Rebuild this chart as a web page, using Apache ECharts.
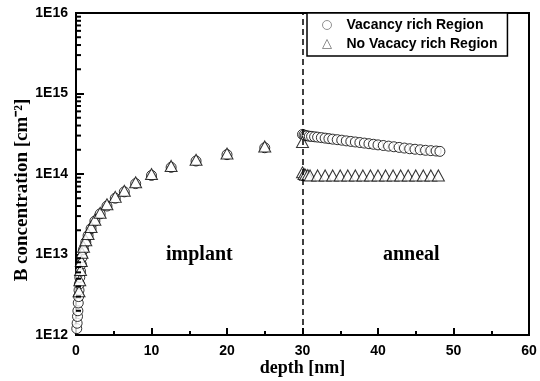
<!DOCTYPE html>
<html>
<head>
<meta charset="utf-8">
<script src="https://cdn.jsdelivr.net/npm/echarts@6/dist/echarts.min.js"></script>
<style>html,body{margin:0;padding:0;background:#fff;}#c{width:540px;height:381px;}</style>
</head>
<body>
<div id="c"></div>
<script>
// ---- data ----
const seriesNames = ['Vacancy rich Region', 'No Vacacy rich Region'];
const vacancyImplant = [
  [0.1,1.2e12],[0.15,1.4e12],[0.2,1.7e12],[0.25,2.0e12],[0.3,2.5e12],[0.35,3.0e12],[0.4,3.6e12],
  [0.45,4.3e12],[0.5,5.2e12],[0.6,6.2e12],[0.7,7.6e12],[0.8,9.2e12],[1.0,1.15e13],[1.3,1.42e13],
  [1.6,1.72e13],[2.0,2.1e13],[2.5,2.6e13],[3.2,3.2e13],[4.1,4.0e13],[5.2,5.0e13],[6.4,6.0e13],
  [7.9,7.6e13],[10,9.6e13],[12.6,1.21e14],[15.9,1.45e14],[20,1.74e14],[25,2.12e14]
];
const vacancyAnneal = [
  [30.0,3.1e14],[30.2,3.05e14],[30.4,3.0e14],[30.6,2.98e14],[30.9,2.95e14],[31.2,2.93e14],
  [31.6,2.9e14],[32.0,2.87e14],[32.5,2.83e14],[33.0,2.79e14],[33.5,2.75e14],[34.0,2.71e14],
  [34.6,2.67e14],[35.2,2.63e14],[35.8,2.58e14],[36.4,2.54e14],[37.0,2.5e14],[37.6,2.46e14],
  [38.2,2.42e14],[38.8,2.38e14],[39.4,2.34e14],[40.0,2.3e14],[40.7,2.26e14],[41.4,2.22e14],
  [42.1,2.18e14],[42.8,2.14e14],[43.5,2.1e14],[44.2,2.06e14],[44.9,2.03e14],[45.6,2.0e14],
  [46.3,1.97e14],[47.0,1.95e14],[47.7,1.93e14],[48.2,1.91e14]
];
const noVacancyImplant = [
  [0.4,3.5e12],[0.5,4.8e12],[0.6,6.4e12],[0.7,8.3e12],[0.8,1.05e13],[1.0,1.25e13],[1.3,1.5e13],
  [1.6,1.8e13],[2.0,2.2e13],[2.5,2.7e13],[3.2,3.3e13],[4.1,4.2e13],[5.2,5.2e13],[6.4,6.2e13],
  [7.9,7.9e13],[10,1.0e14],[12.6,1.26e14],[15.9,1.5e14],[20,1.8e14],[25,2.2e14],[30,2.5e14]
];
const noVacancyAnneal = [
  [30.0,1.05e14],[30.2,1.0e14],[30.4,0.98e14],[30.7,0.97e14],[31,0.96e14],[32,0.96e14],
  [33,0.96e14],[34,0.96e14],[35,0.96e14],[36,0.96e14],[37,0.96e14],[38,0.96e14],[39,0.96e14],
  [40,0.96e14],[41,0.96e14],[42,0.96e14],[43,0.96e14],[44,0.96e14],[45,0.96e14],[46,0.96e14],
  [47,0.96e14],[48,0.96e14]
];
const boundaryDepth = 30;
const xMin = 0, xMax = 60, xInterval = 10;
const yMajorTicks = [1e12, 1e13, 1e14, 1e15, 1e16];
const yMinorMultipliers = [2,3,4,5,6,7,8,9];
const regionLabels = ['implant', 'anneal'];
const xAxisTitle = 'depth [nm]';
const yAxisTitle = 'B concentration [cm\u207B\u00B2]';

const yMinorTicks = [];
for (let i = 0; i < yMajorTicks.length - 1; i++) {
  yMinorMultipliers.forEach(m => yMinorTicks.push(yMajorTicks[i] * m));
}

const sans = 'Liberation Sans, Arial, sans-serif';
const serif = 'Liberation Serif, Times New Roman, serif';
const markerStyle = { color: '#fff', borderColor: '#000', borderWidth: 1 };
const labelGraphics = [
  { type: 'text', left: 166, top: 245, style: { text: regionLabels[0], fontFamily: serif, fontWeight: 'bold', fontSize: 20, fill: '#000' } },
  { type: 'text', left: 383, top: 245, style: { text: regionLabels[1], fontFamily: serif, fontWeight: 'bold', fontSize: 20, fill: '#000' } }
];

const chart = echarts.init(document.getElementById('c'), null, { renderer: 'canvas' });
chart.setOption({
  animation: false,
  backgroundColor: '#fff',
  grid: {
    left: 76, right: 11, top: 13, bottom: 46, containLabel: false, outerBoundsMode: 'none',
    show: true, borderColor: '#000', borderWidth: 2, backgroundColor: 'transparent'
  },
  legend: {
    orient: 'vertical', left: 307, top: 13,
    data: seriesNames,
    borderColor: '#000', borderWidth: 1.5, backgroundColor: '#fff',
    padding: [5, 10, 5, 15], itemGap: 5, itemWidth: 9, itemHeight: 9,
    itemStyle: { color: '#fff', borderColor: '#777', borderWidth: 1 },
    textStyle: { fontFamily: sans, fontWeight: 'bold', fontSize: 14, color: '#000', padding: [0, 0, 0, 10] }
  },
  xAxis: {
    type: 'value', min: xMin, max: xMax, interval: xInterval,
    name: xAxisTitle, nameLocation: 'middle', nameGap: 24, nameMoveOverlap: false,
    nameTextStyle: { fontFamily: serif, fontWeight: 'bold', fontSize: 18, color: '#000' },
    axisLine: { lineStyle: { color: '#000', width: 2 } },
    axisTick: { inside: true, length: 7, lineStyle: { color: '#000', width: 2 } },
    minorTick: { show: true, splitNumber: 2, length: 4, lineStyle: { color: '#000', width: 2 } },
    axisLabel: { fontFamily: sans, fontWeight: 'bold', fontSize: 14, color: '#000', margin: 9 },
    splitLine: { show: false }
  },
  yAxis: {
    type: 'log', logBase: 10, min: yMajorTicks[0], max: yMajorTicks[yMajorTicks.length - 1],
    name: yAxisTitle, nameLocation: 'middle', nameGap: 44, nameMoveOverlap: false,
    nameTextStyle: { fontFamily: serif, fontWeight: 'bold', fontSize: 19, color: '#000', padding: [0, 32, 0, 0] },
    axisLine: { lineStyle: { color: '#000', width: 2 } },
    axisTick: { inside: true, length: 8, lineStyle: { color: '#000', width: 2 } },
    axisLabel: {
      fontFamily: sans, fontWeight: 'bold', fontSize: 14, color: '#000', margin: 8,
      formatter: v => '1E' + Math.round(Math.log10(v))
    },
    splitLine: { show: false }
  },
  graphic: labelGraphics,
  series: [
    {
      name: seriesNames[0], type: 'scatter', symbol: 'circle', symbolSize: 10,
      data: vacancyImplant.concat(vacancyAnneal), itemStyle: markerStyle, z: 2,
      markLine: {
        silent: true, symbol: 'none', label: { show: false },
        lineStyle: { color: '#000', type: [6, 4], width: 1.5 },
        data: [{ xAxis: boundaryDepth }]
      }
    },
    {
      name: seriesNames[1], type: 'scatter', symbol: 'triangle', symbolSize: [12, 11],
      data: noVacancyImplant.concat(noVacancyAnneal), itemStyle: markerStyle, z: 3
    }
  ]
});

// minor log ticks on the y axis, positioned through the chart's own scale
const minorTickGraphics = yMinorTicks.map(v => {
  const p = chart.convertToPixel({ gridIndex: 0 }, [xMin, v]);
  return {
    type: 'line', silent: true, z: 100,
    shape: { x1: p[0], y1: p[1], x2: p[0] + 5, y2: p[1] },
    style: { stroke: '#000', lineWidth: 2 }
  };
});
chart.setOption({ graphic: labelGraphics.concat(minorTickGraphics) }, { replaceMerge: ['graphic'] });
</script>
</body>
</html>
